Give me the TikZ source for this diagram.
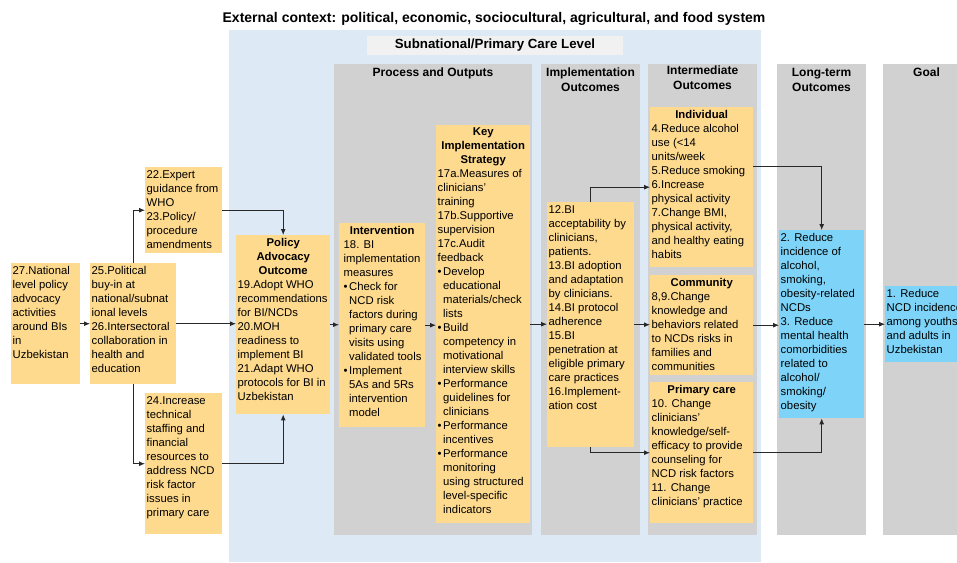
\documentclass[tikz,border=0pt]{standalone}
\usepackage{fontspec}
\setmainfont{Liberation Sans}
\usepackage{xcolor}
\usetikzlibrary{arrows.meta}

\definecolor{cellorange}{RGB}{254,218,142}
\definecolor{cellblue}{RGB}{125,212,248}
\definecolor{ctxblue}{RGB}{221,234,246}
\definecolor{colgrey}{RGB}{209,209,209}
\definecolor{levgrey}{RGB}{241,241,241}
\definecolor{linegrey}{RGB}{40,40,40}

% fixed size text block: width, height, text
\newcommand{\cbox}[3]{\parbox[t][#2pt][t]{#1pt}{\raggedright\hyphenpenalty=10000 #3}}
\newcommand{\bul}{\makebox[5.5pt][l]{\textbullet}}
\newcommand{\bulpad}{\hspace*{5.5pt}}
\newcommand{\chead}[1]{{\centering\bfseries #1\par}}

\tikzset{
  cell/.style={fill=cellorange, anchor=north west, inner xsep=1.5pt, inner ysep=3pt,
    font=\fontsize{11.3}{14}\selectfont},
  bluecell/.style={cell, fill=cellblue},
  colhead/.style={font=\fontsize{12}{15}\selectfont\bfseries, align=center, anchor=north, inner sep=0pt},
  link/.style={->, draw=linegrey, line width=0.9pt}
}

\begin{document}
\begin{tikzpicture}[x=1pt, y=-1pt, >={Latex[length=6pt, width=5pt]}]
    \useasboundingbox (0,0) rectangle (957,562);
    % External context and subnational level
    \node[font=\fontsize{14}{16}\selectfont\bfseries] at (494,19) (ctx) {External context: political, economic, sociocultural, agricultural, and food system};
    \fill[ctxblue] (229,30) rectangle (761,562);
    \fill[levgrey] (367,36) rectangle (623,55);
    \node[font=\fontsize{13.3}{15}\selectfont\bfseries] at (495,45.5) (lev) {Subnational/Primary Care Level};
%
    % Columns
    \fill[colgrey] (334,64) rectangle (532,535);
    \fill[colgrey] (541,64) rectangle (640,535);
    \fill[colgrey] (648,64) rectangle (757,535);
    \fill[colgrey] (777,64) rectangle (866,535);
    \fill[colgrey] (883,64) rectangle (970,535);
    \node[colhead] at (433,68) (hproc) {Process and Outputs};
    \node[colhead] at (590.5,68) (himpl) {Implementation\\Outcomes};
    \node[colhead] at (702.5,66) (hinter) {Intermediate\\Outcomes};
    \node[colhead] at (821.5,68) (hlong) {Long-term\\Outcomes};
    \node[colhead] at (926.5,68) (hgoal) {Goal};
%
    % National level inputs
    \node[cell] at (11,263) (n27) {\cbox{66}{115}{27.National\\level policy\\advocacy\\activities\\around BIs\\in\\Uzbekistan}};
    \node[cell] at (90,263) (n25) {\cbox{83}{115}{25.Political\\buy-in at\\national/subnat\\ional levels\\26.Intersectoral\\collaboration in\\health and\\education}};
    \node[cell] at (145,167) (n22) {\cbox{74}{80}{22.Expert\\guidance from\\WHO\\23.Policy/\\procedure\\amendments}};
    \node[cell] at (145,393) (n24) {\cbox{74}{135}{24.Increase\\technical\\staffing and\\financial\\resources to\\address NCD\\risk factor\\issues in\\primary care}};
    \node[cell] at (236,235) (pol) {\cbox{91}{173}{\chead{Policy\\Advocacy\\Outcome}19.Adopt WHO\\recommendations\\for BI/NCDs\\20.MOH\\readiness to\\implement BI\\21.Adapt WHO\\protocols for BI in\\Uzbekistan}};
%
    % Process and outputs
    \node[cell] at (339,223) (intv) {\cbox{83}{198}{\leftskip=3pt\chead{Intervention}18. BI\\implementation\\measures\\\bul Check for\\\bulpad NCD risk\\\bulpad factors during\\\bulpad primary care\\\bulpad visits using\\\bulpad validated tools\\\bul Implement\\\bulpad 5As and 5Rs\\\bulpad intervention\\\bulpad model}};
    \node[cell] at (436,125) (key) {\cbox{91}{392}{\chead{Key\\Implementation\\Strategy}17a.Measures of\\clinicians'\\training\\17b.Supportive\\supervision\\17c.Audit\\feedback\\\bul Develop\\\bulpad educational\\\bulpad materials/check\\\bulpad lists\\\bul Build\\\bulpad competency in\\\bulpad motivational\\\bulpad interview skills\\\bul Performance\\\bulpad guidelines for\\\bulpad clinicians\\\bul Performance\\\bulpad incentives\\\bul Performance\\\bulpad monitoring\\\bulpad using structured\\\bulpad level-specific\\\bulpad indicators}};
%
    % Implementation outcomes
    \node[cell] at (547,202) (impl) {\cbox{84}{239}{12.BI\\acceptability by\\clinicians,\\patients.\\13.BI adoption\\and adaptation\\by clinicians.\\14.BI protocol\\adherence\\15.BI\\penetration at\\eligible primary\\care practices\\16.Implement-\\ation cost}};
%
    % Intermediate outcomes
    \node[cell] at (650,107) (ind) {\cbox{100}{154}{\chead{Individual}4.Reduce alcohol\\use (<14\\units/week\\5.Reduce smoking\\6.Increase\\physical activity\\7.Change BMI,\\physical activity,\\and healthy eating\\habits}};
    \node[cell] at (650,275) (com) {\cbox{100}{94}{\chead{Community}8,9.Change\\knowledge and\\behaviors related\\to NCDs risks in\\families and\\communities}};
    \node[cell] at (650,382) (pc) {\cbox{100}{135}{\chead{Primary care}10. Change\\clinicians'\\knowledge/self-\\efficacy to provide\\counseling for\\NCD risk factors\\11. Change\\clinicians' practice}};
%
    % Long-term outcomes and goal
    \node[bluecell] at (779,230) (lt) {\cbox{82}{182}{2. Reduce\\incidence of\\alcohol,\\smoking,\\obesity-related\\NCDs\\3. Reduce\\mental health\\comorbidities\\related to\\alcohol/\\smoking/\\obesity}};
    \node[bluecell] at (885,286) (goal) {\cbox{87}{70}{1. Reduce\\NCD incidence\\among youths\\and adults in\\Uzbekistan}};
%
    % Connectors
    \draw[link] (n27.east) -- (n27.east -| n25.west);
    \draw[link] (n25.north) |- (n22.west);
    \draw[link] (n25.south) |- (n24.west);
    \draw[link] (n25.east) -- (n25.east -| pol.west);
    \draw[link] (n22.east) -| (pol.north);
    \draw[link] (n24.east) -| (pol.south);
    \draw[link] (pol.east) -- (pol.east -| intv.west);
    \draw[link] (intv.east) -- (intv.east -| key.west);
    \draw[link] (key.east) -- (key.east -| impl.west);
    \draw[link] (impl.north) |- (ind.west);
    \draw[link] (impl.east) -- (impl.east -| com.west);
    \draw[link] (impl.south) |- (pc.west);
    \draw[link] ([yshift=21pt]ind.east) -| (lt.north);
    \draw[link] (com.east) -- (com.east -| lt.west);
    \draw[link] (pc.east) -| (lt.south);
    \draw[link] (lt.east) -- (lt.east -| goal.west);
\end{tikzpicture}
\end{document}
